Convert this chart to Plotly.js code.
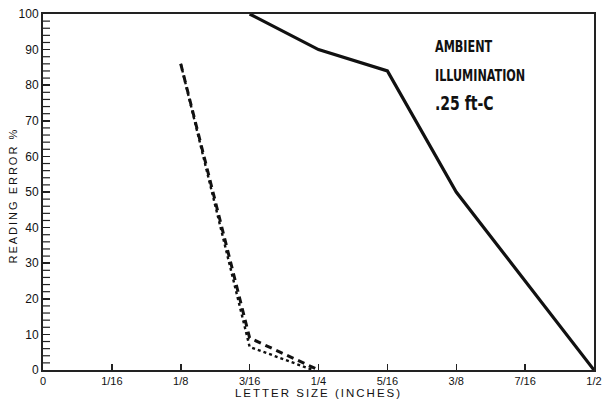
<!DOCTYPE html>
<html><head><meta charset="utf-8">
<script src="https://cdn.plot.ly/plotly-3.0.1.min.js"></script>
<style>
html,body{margin:0;padding:0;background:#fff;}
.xtitle,.ytitle{letter-spacing:2px;}
g.annotation:not([data-index="3"]) text.annotation-text{transform-box:fill-box;transform-origin:left center;transform:scaleX(0.78);}
g.annotation[data-index="3"] text.annotation-text{letter-spacing:2px;}
</style>
</head><body>
<div id="chart" style="width:609px;height:405px;"></div>
<script>
// Letter size in inches
const solidX = [0.1875, 0.25, 0.3125, 0.375, 0.5];
const solidY = [100, 90, 84, 50, 0];
const dashX = [0.125, 0.1875, 0.25];
const dashY = [86, 9, 0];
const dotX = [0.125, 0.1875, 0.245];
const dotY = [86, 6.5, 0];
const xTickVals = [0, 0.0625, 0.125, 0.1875, 0.25, 0.3125, 0.375, 0.4375, 0.5];
const xTickText = ['0', '1/16', '1/8', '3/16', '1/4', '5/16', '3/8', '7/16', '1/2'];
const yMinorVals = [];
for (let v = 0; v <= 100; v += 2) if (v % 10) yMinorVals.push(v);
const noteLines = ['AMBIENT', 'ILLUMINATION', '.25 ft-C'];
const noteY = [90.8, 82.6, 75.0];
const noteSize = [16, 16, 20];

const plotW = 609 - 43 - 15;
const pxToX = 0.5 / plotW;
const minorLen = 5;

const traces = [
  {x: solidX, y: solidY, mode: 'lines', line: {color: '#111', width: 3.2}},
  {x: dashX, y: dashY, mode: 'lines', line: {color: '#111', width: 3, dash: '7px,5px'}},
  {x: dotX, y: dotY, mode: 'lines', line: {color: '#111', width: 2.4, dash: 'dot'}},
  {x: yMinorVals.map(() => pxToX * (minorLen / 2 + 1)), y: yMinorVals, mode: 'markers', cliponaxis: false,
   marker: {symbol: 'line-ew', size: minorLen, color: '#222', line: {color: '#222', width: 1.2}}, hoverinfo: 'skip'}
];
const font = {family: 'Liberation Sans, Arial, sans-serif', color: '#111', size: 12};
const noteFont = 'DejaVu Sans Condensed, Liberation Sans Narrow, sans-serif';
const layout = {
  width: 609, height: 405,
  margin: {l: 43, r: 15, t: 14, b: 35},
  showlegend: false,
  paper_bgcolor: '#fff', plot_bgcolor: '#fff',
  font: font,
  xaxis: {
    range: [0, 0.5], tickmode: 'array', tickvals: xTickVals, ticktext: xTickText,
    ticks: 'inside', ticklen: 6, tickwidth: 1.5, tickcolor: '#222',
    showgrid: false, zeroline: false,
    showline: true, linecolor: '#222', linewidth: 2, mirror: true,
    tickfont: {family: font.family, size: 11, color: '#111'},
    title: {text: 'LETTER SIZE (INCHES)', standoff: 2, font: {family: font.family, size: 11.5, color: '#111'}}
  },
  yaxis: {
    range: [0, 100], tickmode: 'linear', tick0: 0, dtick: 10,
    ticks: 'inside', ticklen: 7, tickwidth: 1.5, tickcolor: '#222',
    showgrid: false, zeroline: false,
    showline: true, linecolor: '#222', linewidth: 2, mirror: true,
    tickfont: {family: font.family, size: 12, color: '#111'}
  },
  annotations: noteLines.map((t, i) => ({
    x: 0.354, y: noteY[i], xref: 'x', yref: 'y', xanchor: 'left', yanchor: 'middle',
    text: t, showarrow: false, align: 'left',
    font: {family: noteFont, size: noteSize[i], color: '#111', weight: 'bold'}
  })).concat([{
    x: -0.0545, y: 0.49, xref: 'paper', yref: 'paper', xanchor: 'center', yanchor: 'middle',
    text: 'READING ERROR %', textangle: -90, showarrow: false,
    font: {family: font.family, size: 11, color: '#111'}
  }])
};
Plotly.newPlot('chart', traces, layout, {displayModeBar: false, staticPlot: true});
</script>
</body></html>
